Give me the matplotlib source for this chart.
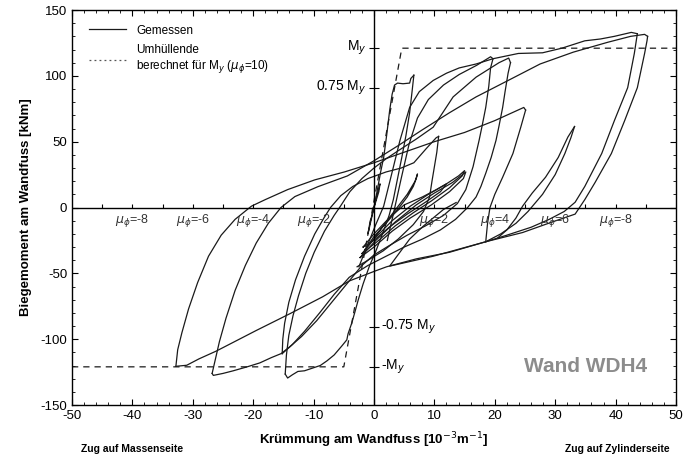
import matplotlib
matplotlib.use("Agg")
import matplotlib.pyplot as plt
from matplotlib.lines import Line2D
import numpy as np

plt.rcParams["font.family"] = ["Liberation Sans", "DejaVu Sans"]
plt.rcParams["mathtext.fontset"] = "dejavusans"
plt.rcParams["axes.unicode_minus"] = False

# yield moment of the envelope [kNm] and its yield curvatures [1e-3/m]
M_Y = 121
envelope_x = [-50, -5.0, 4.6, 50]
envelope_y = [-M_Y, -M_Y, M_Y, M_Y]

elastic_cycle = [(0, 0), (0.5, 10), (1.0, 18), (0.8, 12), (0, 0), (-0.5, -10),
                 (-1.0, -20), (-0.7, -12), (0, 0)]
small_cycle_1 = [(-1.5, -32), (0, -22), (2, -12), (4, -1), (5.5, 8), (6.5, 16), (7, 22),
                 (7.2, 25.5), (6.8, 20), (5.5, 10), (3.5, -2), (1.5, -14), (0, -24), (-1.5, -32)]
small_cycle_2 = [(-2, -35), (0, -24), (3, -10), (6, 1), (9, 10), (12, 18), (14, 24), (15, 28),
                 (14.6, 24), (12.5, 15), (9.5, 5), (6.5, -4), (3.5, -14), (0.5, -26), (-2, -35)]
small_cycle_3 = [(-2.3, -38), (0.3, -25), (3.5, -11), (7, 2), (10, 11), (13, 19), (14.5, 24.5),
                 (15.2, 27), (14.8, 22), (12.5, 12), (9.5, 2), (6, -8), (3, -18), (0, -30), (-2.3, -38)]
small_cycle_4 = [(-1.8, -30), (0, -20), (2.5, -8), (5, 2), (8, 8), (10.5, 14), (12, 18), (11, 12),
                 (8.5, 4), (5.5, -5), (2.5, -15), (0, -25), (-1.8, -30)]
first_loading = [(0, 0), (0.5, 12), (1.1, 27), (1.6, 38), (2.1, 55), (2.6, 74), (3.0, 86),
                 (3.4, 93), (3.9, 94.5), (4.8, 94), (5.9, 94.5), (6.1, 98), (6.6, 100.5)]
first_reversal = [(6.6, 100.5), (6.3, 88), (5.9, 72), (5.3, 55), (4.6, 38), (3.9, 22), (3.2, 6),
                  (2.5, -6), (1.4, -20), (0.4, -32), (-0.8, -45), (-1.8, -58), (-2.6, -70),
                  (-3.2, -80), (-3.7, -88), (-4.3, -96), (-4.5, -100.5), (-5.3, -105),
                  (-6.6, -112), (-7.8, -116.5), (-8.9, -120), (-10.2, -122), (-11.5, -124),
                  (-12.6, -124.5), (-13.5, -127), (-14.3, -129.5), (-14.7, -126.5)]
reload_2a = [(-14.7, -126.5), (-14.5, -112), (-14.1, -97), (-13.4, -82), (-12.5, -67),
             (-11.3, -50), (-9.9, -34), (-8.2, -18), (-6.6, -6), (-5.7, 0), (-4, 12), (-2, 22),
             (0, 30), (2, 37), (4.3, 44), (7, 52), (9.8, 61), (13.1, 84), (16.9, 99),
             (20.7, 110), (22.3, 113.5), (22.6, 110)]
unload_2a = [(22.6, 110), (22.2, 102), (21.7, 88), (21.3, 76), (20.7, 62), (20.2, 51),
             (19.4, 38), (18.5, 26), (17.7, 16), (16.9, 8), (15.5, 0), (13.5, -9), (11, -17),
             (8, -24), (5, -30), (2, -37), (-1, -44), (-4.1, -53), (-6.6, -66), (-9, -80),
             (-11.5, -94), (-13.5, -104), (-15.2, -111)]
reload_2b = [(-15.2, -111), (-15.1, -100), (-14.8, -88), (-14.1, -72), (-13, -55),
             (-11.5, -37), (-9.8, -20), (-8.3, -8), (-7.2, 0), (-5.5, 9), (-3.5, 16),
             (-1, 22), (2, 27), (4.5, 30), (6.6, 34), (8.7, 45), (10.3, 53), (10.7, 54)]
unload_2b = [(10.7, 54), (10.4, 42), (10, 31), (9.6, 20), (9.2, 8), (8.2, -3), (6.5, -13),
             (4, -24), (1.5, -33), (-1, -40), (-2.8, -45)]
reload_3a = [(2.2, -25), (3.2, -5), (4.5, 22), (5.8, 48), (7.2, 68), (9, 82), (11.5, 93),
             (14.1, 101), (17, 108), (19.3, 114.5), (19.7, 113)]
unload_3a = [(19.7, 113), (19.3, 106), (19, 92), (18.5, 76), (17.9, 62), (17.4, 51),
             (16.4, 31), (15.2, 13.6), (13.8, 3), (11.5, -6), (8.5, -14), (5.5, -21),
             (2.5, -29), (0, -36), (-2, -44), (-4.5, -58), (-7, -72), (-9.5, -86), (-12, -98),
             (-14, -106), (-15.4, -111), (-17, -114), (-18.9, -118), (-21, -121),
             (-23.3, -124), (-25, -126), (-26.6, -127.5), (-26.8, -126)]
reload_3b = [(-26.8, -126), (-26.3, -116), (-25.6, -102), (-24.5, -84), (-23, -63),
             (-21.3, -44), (-19.5, -27), (-17.5, -12), (-15.4, 0), (-13.1, 8.3),
             (-9.3, 15.8), (-4.4, 24), (0, 35.5), (4, 47), (8, 59), (12.5, 72), (16.9, 84),
             (22, 96), (27.5, 109), (33, 118), (38.7, 125.5), (42.5, 130), (44.8, 131.5),
             (45.3, 130)]
unload_3b = [(45.3, 130), (45.2, 126.6), (44.8, 117), (43.6, 91), (41.5, 66), (39.3, 41),
             (36.6, 19), (34.9, 6), (33.3, -5), (29.5, -11), (24.6, -19), (18.5, -26),
             (12.5, -34), (7, -39), (2.1, -45), (0.2, -48.2), (-4.1, -55.8), (-8.5, -67.8),
             (-13.9, -80.6), (-19.5, -93.4), (-26.1, -109), (-29, -115), (-31, -119.8),
             (-32.8, -120.6)]
reload_4a = [(-32.8, -120.6), (-32.5, -108), (-31.8, -95), (-30.7, -77), (-29.2, -57),
             (-27.4, -37), (-25.3, -21), (-23, -9), (-20.3, 1), (-18, 6), (-14.3, 13.6),
             (-9.8, 21), (-4.9, 27), (0, 34), (5, 42), (10, 50), (15, 57), (20, 66),
             (24.8, 76), (25.1, 74)]
unload_4a = [(25.1, 74), (24.3, 61), (23, 41), (21.3, 23), (20, 10), (19.2, 0), (18.8, -12),
             (18.5, -26)]
reload_4b = [(18.5, -26), (21, -20), (23.5, -12), (25.5, -3), (27.9, 10), (30, 25),
             (31.6, 41), (32.6, 53), (33.2, 61.5)]
unload_4b = [(33.2, 61.5), (32.1, 53.5), (30.5, 38), (28.4, 23), (26.2, 11), (24.6, 1),
             (23.5, -8), (22, -17), (20.5, -23)]
reload_5 = [(-2.5, -45), (-1.2, -30), (0.2, -14), (1.6, 1), (2.9, 25), (4.3, 51), (5.9, 76),
            (7.5, 88), (9.8, 96.5), (12, 102), (14.1, 106), (16.9, 109), (19.7, 113),
            (23.9, 117), (27.9, 117.5), (31.1, 121), (34.9, 126.6), (37.5, 128),
            (39.8, 130), (42.6, 133), (43.6, 132)]
unload_5 = [(43.6, 132), (43.1, 117), (42, 91), (39.8, 66), (37.7, 41), (34.9, 16),
            (33.3, 4), (31.5, -3), (29, -9), (26, -15), (22, -21), (18.5, -26), (9.8, -37),
            (2.6, -44.5), (3.8, -37), (5.9, -24), (8.2, -14), (11.5, -1.5), (13.6, 3.8)]

branches = [elastic_cycle, small_cycle_1, small_cycle_2, small_cycle_3, small_cycle_4,
            first_loading, first_reversal, reload_2a, unload_2a, reload_2b, unload_2b,
            reload_3a, unload_3a, reload_3b, unload_3b, reload_4a, unload_4a,
            reload_4b, unload_4b, reload_5, unload_5]

mu_x = [-40, -30, -20, -10, 10, 20, 30, 40]
mu_labels = ["-8", "-6", "-4", "-2", "2", "4", "6", "-8"]

fig = plt.figure(figsize=(6.85, 4.59), dpi=100)
ax = fig.add_axes([72 / 685, 0.1176, 604 / 685, 0.8606])

for br in branches:
    bx, by = zip(*br)
    ax.plot(bx, by, color="#1a1a1a", lw=0.9)

ax.plot(envelope_x, envelope_y, color="#1a1a1a", lw=0.9, ls=(0, (5, 4)))

# axes through the origin with their own small ticks
ax.axhline(0, color="black", lw=1.0)
ax.axvline(0, color="black", lw=1.0)
zero_ticks = np.arange(-45, 50, 5)
ax.vlines(zero_ticks[zero_ticks != 0], 0, 2.5, color="black", lw=0.8)
my_ticks = [M_Y, 0.75 * M_Y, -0.75 * M_Y, -M_Y]
ax.hlines(my_ticks, -0.8, 0.8, color="black", lw=0.8)
ax.text(-1.2, M_Y, r"M$_y$", ha="right", va="center", fontsize=10)
ax.text(-1.2, 0.75 * M_Y, r"0.75 M$_y$", ha="right", va="center", fontsize=10)
ax.text(1.2, -0.75 * M_Y, r"-0.75 M$_y$", ha="left", va="center", fontsize=10)
ax.text(1.2, -M_Y, r"-M$_y$", ha="left", va="center", fontsize=10)

for xm, lab in zip(mu_x, mu_labels):
    ax.text(xm, -10, r"$\mu_\phi$=" + lab, ha="center", va="center", fontsize=9, color="#333333")

ax.text(35, -121, "Wand WDH4", ha="center", va="center", fontsize=15,
        fontweight="bold", color="#8c8c8c")

ax.set_xlim(-50, 50)
ax.set_ylim(-150, 150)
ax.set_xticks(np.arange(-50, 51, 10))
ax.set_yticks(np.arange(-150, 151, 50))
ax.set_xticks(np.arange(-50, 51, 2), minor=True)
ax.set_yticks(np.arange(-150, 151, 10), minor=True)
ax.tick_params(which="both", direction="in", top=True, right=True, labelsize=9.5)
ax.tick_params(which="major", length=4)
ax.tick_params(which="minor", length=2)
for sp in ax.spines.values():
    sp.set_linewidth(1.0)

ax.set_xlabel(r"Krümmung am Wandfuss [10$^{-3}$m$^{-1}$]", fontsize=9.5,
              fontweight="bold", labelpad=6)
ax.set_ylabel("Biegemoment am Wandfuss [kNm]", fontsize=9.5, fontweight="bold", labelpad=6)
fig.text(132 / 685, 1 - 449 / 459, "Zug auf Massenseite", ha="center", va="center",
         fontsize=7.5, fontweight="bold")
fig.text(617 / 685, 1 - 449 / 459, "Zug auf Zylinderseite", ha="center", va="center",
         fontsize=7.5, fontweight="bold")

handles = [Line2D([], [], color="#1a1a1a", lw=0.9),
           Line2D([], [], color="#555555", lw=0.9, ls=(0, (1.5, 2.5)))]
ax.legend(handles, ["Gemessen", "Umhüllende\n" + r"berechnet für M$_y$ ($\mu_\phi$=10)"],
          loc="upper left", frameon=False, fontsize=8.5, handlelength=3.2,
          bbox_to_anchor=(0.01, 0.99), labelspacing=0.6)

fig.savefig("out.png", dpi=100)
